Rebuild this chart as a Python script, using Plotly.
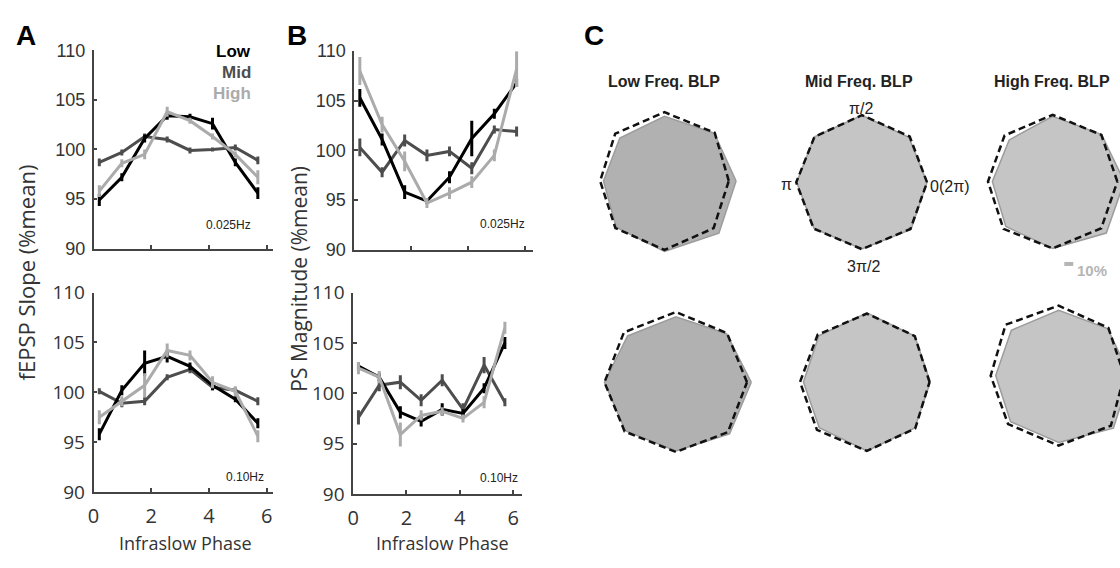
import numpy as np
import plotly.graph_objects as go

W, H = 1120, 568

# ---------------- data ----------------
phase = [0.2, 0.98, 1.77, 2.55, 3.34, 4.12, 4.91, 5.69]
series = ["Low", "Mid", "High"]
colors = {"Low": "#000000", "Mid": "#4d4d4d", "High": "#ababab"}

# Panel A (fEPSP slope, %mean)
a_top_low = [94.9, 97.2, 101.1, 103.4, 103.3, 102.6, 98.7, 95.6]
a_top_mid = [98.7, 99.7, 101.3, 101.0, 99.9, 100.0, 100.2, 98.9]
a_top_high = [95.8, 98.6, 99.5, 103.8, 102.9, 101.3, 99.5, 97.2]
a_top_low_err = [0.6, 0.4, 0.4, 0.4, 0.3, 0.6, 0.4, 0.6]
a_top_mid_err = [0.4, 0.3, 0.3, 0.3, 0.3, 0.2, 0.3, 0.4]
a_top_high_err = [0.6, 0.4, 0.5, 0.5, 0.3, 0.3, 0.3, 0.7]

a_bot_low = [95.8, 100.2, 102.9, 103.6, 102.6, 100.7, 99.3, 96.9]
a_bot_mid = [100.1, 98.9, 99.1, 101.5, 102.3, 100.5, 100.2, 99.1]
a_bot_high = [97.5, 99.1, 100.7, 104.2, 103.7, 101.0, 100.1, 95.6]
a_bot_low_err = [0.6, 0.5, 1.3, 0.6, 0.4, 0.5, 0.3, 0.5]
a_bot_mid_err = [0.3, 0.4, 0.4, 0.3, 0.4, 0.3, 0.3, 0.4]
a_bot_high_err = [0.7, 0.5, 1.2, 0.7, 0.5, 0.6, 0.5, 0.6]

# Panel B (PS magnitude, %mean)
b_top_low = [105.3, 101.1, 95.8, 94.9, 97.3, 101.2, 103.7, 106.8]
b_top_mid = [100.3, 97.8, 101.0, 99.5, 99.9, 98.2, 102.1, 101.9]
b_top_high = [108.0, 102.6, 98.9, 94.7, 95.7, 96.8, 99.5, 108.2]
b_top_low_err = [0.9, 0.6, 0.7, 0.3, 0.6, 1.8, 0.5, 0.4]
b_top_mid_err = [0.9, 0.5, 0.6, 0.6, 0.5, 0.6, 0.4, 0.5]
b_top_high_err = [1.4, 0.8, 1.0, 0.5, 0.6, 0.6, 0.6, 1.8]

b_bot_low = [102.7, 101.6, 98.1, 97.2, 98.4, 98.0, 100.5, 105.0]
b_bot_mid = [97.6, 100.8, 101.1, 99.3, 101.3, 98.4, 102.8, 99.1]
b_bot_high = [102.5, 101.6, 95.9, 97.8, 98.2, 97.5, 99.1, 106.5]
b_bot_low_err = [0.4, 0.4, 0.6, 0.5, 0.6, 0.4, 0.5, 0.6]
b_bot_mid_err = [0.7, 0.6, 0.7, 0.6, 0.6, 0.6, 0.8, 0.4]
b_bot_high_err = [0.6, 0.6, 1.2, 0.5, 0.4, 0.4, 0.6, 0.6]

y_ticks = [90, 95, 100, 105, 110]
x_ticks = [0, 2, 4, 6]

# Panel C (radial profiles, angles 0, pi/4, ... 7pi/4)
c_angles_deg = [0, 45, 90, 135, 180, 225, 270, 315]
c_top_low_fill = [102.9, 101.1, 96.7, 90.7, 87.6, 98.0, 105.7, 110.6]
c_top_low_ref = [92.4, 102.0, 102.9, 100.0, 92.4, 99.7, 103.3, 99.9]
c_top_mid_fill = [93.6, 95.4, 100.3, 96.4, 93.6, 97.3, 99.7, 99.7]
c_top_mid_ref = [93.6, 97.1, 100.7, 96.4, 94.3, 97.9, 100.0, 98.6]
c_top_high_fill = [102.9, 99.4, 97.7, 88.3, 86.6, 95.1, 100.0, 108.9]
c_top_high_ref = [92.9, 98.9, 100.0, 97.7, 92.9, 100.0, 100.0, 98.7]
c_bot_low_fill = [108.3, 102.9, 98.1, 98.1, 102.6, 102.6, 102.9, 109.0]
c_bot_low_ref = [102.1, 103.9, 105.3, 105.6, 102.6, 104.1, 104.3, 105.6]
c_bot_mid_fill = [91.1, 97.3, 103.4, 97.6, 91.1, 96.7, 103.3, 97.3]
c_bot_mid_ref = [90.0, 97.3, 102.4, 100.0, 96.0, 101.4, 103.3, 98.3]
c_bot_high_fill = [102.9, 99.4, 97.6, 96.1, 90.4, 97.6, 100.0, 111.3]
c_bot_high_ref = [94.3, 101.1, 104.7, 107.7, 97.6, 102.7, 104.7, 106.1]

# ---------------- helpers (picture px -> paper) ----------------
def px(x):
    return x / W

def py(y):
    return 1 - y / H

def xdom(p0, p1):
    return [max(px(p0), 0), min(px(p1), 1)]

def ydom(top, bottom):
    return [max(py(bottom), 0), min(py(top), 1)]

fig = go.Figure()
layout = {}

AX = "#444444"
TXT = "#333333"

line_panels = [
    ("1", (88, 268), (39, 247), [0, 6.2],
     (a_top_low, a_top_mid, a_top_high), (a_top_low_err, a_top_mid_err, a_top_high_err), False),
    ("2", (88, 268), (293, 502), [0, 6.2],
     (a_bot_low, a_bot_mid, a_bot_high), (a_bot_low_err, a_bot_mid_err, a_bot_high_err), True),
    ("3", (350, 530), (40, 248), [0, 6.27],
     (b_top_low, b_top_mid, b_top_high), (b_top_low_err, b_top_mid_err, b_top_high_err), False),
    ("4", (349, 519), (293, 504), [0, 6.34],
     (b_bot_low, b_bot_mid, b_bot_high), (b_bot_low_err, b_bot_mid_err, b_bot_high_err), True),
]

for name, xp, yp, xr, data, errs, bottom in line_panels:
    xa = "xaxis" if name == "1" else "xaxis" + name
    ya = "yaxis" if name == "1" else "yaxis" + name
    xref = "x" if name == "1" else "x" + name
    yref = "y" if name == "1" else "y" + name
    tickfont_y = dict(family="Open Sans", size=19, color=TXT) if bottom else \
        dict(family="Liberation Sans", size=18, color=TXT)
    layout[xa] = dict(
        domain=xdom(*xp), range=xr, anchor=yref, showline=True, linecolor=AX,
        linewidth=1.5, ticks="inside", ticklen=4, tickcolor=AX, tickwidth=1.5,
        tickvals=x_ticks, showticklabels=bottom, showgrid=False, zeroline=False,
        tickfont=dict(family="Open Sans", size=20, color=TXT), ticklabelstandoff=5,
        fixedrange=True,
    )
    layout[ya] = dict(
        domain=ydom(*yp), range=[90, 110], anchor=xref, showline=True, linecolor=AX,
        linewidth=1.5, ticks="inside", ticklen=4, tickcolor=AX, tickwidth=1.5,
        tickvals=y_ticks, showgrid=False, zeroline=False, tickfont=tickfont_y,
        ticklabelstandoff=3, fixedrange=True,
    )
    order = [1, 0, 2]  # Mid, Low, High drawing order
    for i in order:
        s = series[i]
        fig.add_trace(go.Scatter(
            x=phase, y=data[i], mode="lines", xaxis=xref, yaxis=yref,
            line=dict(color=colors[s], width=3), showlegend=False,
            error_y=dict(type="data", array=errs[i], visible=True,
                         color=colors[s], thickness=3, width=0),
            hoverinfo="skip",
        ))

# ---------------- panel C ----------------
K = 0.7  # px per % unit
theta = np.deg2rad(np.array(c_angles_deg, dtype=float))
oct_panels = [
    ("5", (662.0, 176.0), c_top_low_fill, c_top_low_ref, "#b1b1b1"),
    ("6", (860.5, 177.5), c_top_mid_fill, c_top_mid_ref, "#c5c5c5"),
    ("7", (1052.3, 176.7), c_top_high_fill, c_top_high_ref, "#c5c5c5"),
    ("8", (673.5, 387.0), c_bot_low_fill, c_bot_low_ref, "#b1b1b1"),
    ("9", (865.5, 386.7), c_bot_mid_fill, c_bot_mid_ref, "#c5c5c5"),
    ("10", (1058.3, 380.0), c_bot_high_fill, c_bot_high_ref, "#c5c5c5"),
]
HALF = 86
for name, (cx, cy), fill_r, ref_r, fcol in oct_panels:
    x0, x1 = max(cx - HALF, 0), min(cx + HALF, W)
    y0, y1 = max(cy - HALF, 0), min(cy + HALF, H)
    layout["xaxis" + name] = dict(
        domain=[px(x0), px(x1)], range=[(x0 - cx) / K, (x1 - cx) / K],
        anchor="y" + name, visible=False, fixedrange=True)
    layout["yaxis" + name] = dict(
        domain=[py(y1), py(y0)], range=[(cy - y1) / K, (cy - y0) / K],
        anchor="x" + name, visible=False, fixedrange=True)
    for r, is_ref in ((fill_r, False), (ref_r, True)):
        rr = np.array(r + [r[0]], dtype=float)
        tt = np.append(theta, theta[0])
        xs = rr * np.cos(tt)
        ys = rr * np.sin(tt)
        if is_ref:
            fig.add_trace(go.Scatter(
                x=xs, y=ys, mode="lines", xaxis="x" + name, yaxis="y" + name,
                line=dict(color="#111111", width=2.5, dash="7px,4px"),
                showlegend=False, hoverinfo="skip"))
        else:
            fig.add_trace(go.Scatter(
                x=xs, y=ys, mode="lines", fill="toself", fillcolor=fcol,
                xaxis="x" + name, yaxis="y" + name,
                line=dict(color="#9c9c9c", width=1.5),
                showlegend=False, hoverinfo="skip"))

# ---------------- annotations ----------------
def ann(text, x, y, size, color="#222222", family="Liberation Sans", xanchor="center",
        yanchor="middle", angle=0):
    return dict(text=text, x=px(x), y=py(y), xref="paper", yref="paper",
                showarrow=False, xanchor=xanchor, yanchor=yanchor, textangle=angle,
                font=dict(family=family, size=size, color=color))

annotations = [
    ann("<b>A</b>", 20, 24, 28, "#000000"),
    ann("<b>B</b>", 293, 24, 28, "#000000"),
    ann("<b>C</b>", 591, 24, 28, "#000000"),
    ann("<b>Low</b>", 248, 40, 17, colors["Low"], xanchor="right"),
    ann("<b>Mid</b>", 248, 62, 17, colors["Mid"], xanchor="right"),
    ann("<b>High</b>", 248, 84, 17, colors["High"], xanchor="right"),
    ann("0.025Hz", 224, 222, 12, "#222222"),
    ann("0.10Hz", 240, 486, 12, "#222222"),
    ann("0.025Hz", 499, 221, 12, "#222222"),
    ann("0.10Hz", 496, 487, 12, "#222222"),
    ann("fEPSP Slope (%mean)", 20, 272, 22, TXT, family="Open Sans", angle=-90),
    ann("PS Magnitude (%mean)", 295, 278, 21, TXT, family="Open Sans", angle=-90),
    ann("Infraslow Phase", 180, 555, 18, TXT, family="Open Sans"),
    ann("Infraslow Phase", 439, 555, 18, TXT, family="Open Sans"),
    ann("<b>Low Freq. BLP</b>", 662, 72, 16),
    ann("<b>Mid Freq. BLP</b>", 858, 72, 16),
    ann("<b>High Freq. BLP</b>", 1052, 72, 16),
    ann("π/2", 860, 100, 16),
    ann("π", 785, 180, 16),
    ann("0(2π)", 949, 182, 16),
    ann("3π/2", 862, 266, 16),
    ann("<b>10%</b>", 1075, 270, 15, "#b5b5b5", xanchor="left"),
]

shapes = [dict(type="line", xref="paper", yref="paper",
               x0=px(1064), x1=px(1073), y0=py(263), y1=py(263),
               line=dict(color="#b5b5b5", width=4))]

fig.update_layout(
    width=W, height=H, margin=dict(l=0, r=0, t=0, b=0),
    paper_bgcolor="white", plot_bgcolor="white", showlegend=False,
    annotations=annotations, shapes=shapes, **layout,
)

fig.write_html("out.html", config={"displayModeBar": False},
               post_script="document.body.style.margin='0';document.body.style.overflow='hidden';")
